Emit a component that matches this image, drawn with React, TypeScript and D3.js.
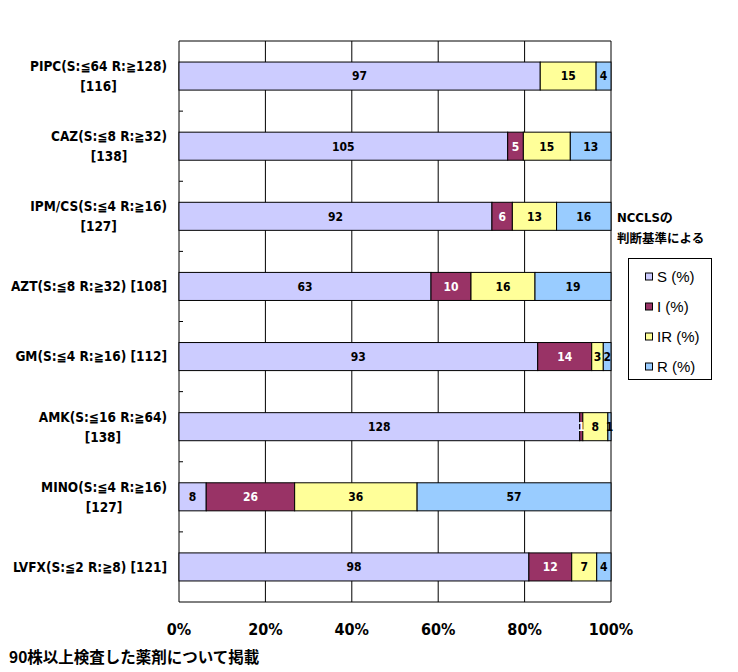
import * as d3 from "d3";
import { useEffect } from "react";

// 薬剤ごとのラベル (1行目, 2行目)
const drugLine1 = [
  "PIPC(S:≦64 R:≧128)",
  "CAZ(S:≦8 R:≧32)",
  "IPM/CS(S:≦4 R:≧16)",
  "AZT(S:≦8 R:≧32) [108]",
  "GM(S:≦4 R:≧16) [112]",
  "AMK(S:≦16 R:≧64)",
  "MINO(S:≦4 R:≧16)",
  "LVFX(S:≦2 R:≧8) [121]",
];
const drugLine2 = ["[116]", "[138]", "[127]", "", "", "[138]", "[127]", ""];

// 株数
const sValues = [97, 105, 92, 63, 93, 128, 8, 98];
const iValues = [0, 5, 6, 10, 14, 1, 26, 12];
const irValues = [15, 15, 13, 16, 3, 8, 36, 7];
const rValues = [4, 13, 16, 19, 2, 1, 57, 4];

const seriesNames = ["S (%)", "I (%)", "IR (%)", "R (%)"];
const seriesColors = ["#CCCCFF", "#993366", "#FFFF99", "#99CCFF"];
const labelColors = ["#000", "#fff", "#000", "#000"];

const xTicks = [0, 0.2, 0.4, 0.6, 0.8, 1];

const W = 738;
const H = 672;
const plot = { left: 179, right: 611, top: 41, bottom: 602 };

const FONT = "'Liberation Sans Narrow', 'DejaVu Sans Condensed', 'Noto Sans CJK JP', sans-serif";
const JP = "'Noto Sans CJK JP', sans-serif";
const LABEL_SIZE = 13.5;

// 1行目の幅を測って2行目を中央に揃える
const ctx = document.createElement("canvas").getContext("2d");
const measure = (s: string) => {
  if (!ctx) return s.length * 7;
  ctx.font = `bold ${LABEL_SIZE}px ${FONT}`;
  return ctx.measureText(s).width;
};

export default function App() {
  useEffect(() => {
    document.body.style.margin = "0";
  }, []);

  const series = [sValues, iValues, irValues, rValues];
  const rows = drugLine1.map((_, i) => {
    const total = series.reduce((a, s) => a + s[i], 0);
    let acc = 0;
    return series.map((s, k) => {
      const seg = { k, v: s[i], x0: acc / total, x1: (acc + s[i]) / total };
      acc += s[i];
      return seg;
    });
  });

  const x = d3.scaleLinear().domain([0, 1]).range([plot.left, plot.right]);
  const y = d3
    .scaleBand<number>()
    .domain(d3.range(drugLine1.length))
    .range([plot.top, plot.bottom])
    .paddingInner(0.6)
    .paddingOuter(0.3);
  const step = (plot.bottom - plot.top) / drugLine1.length;

  return (
    <svg width={W} height={H} style={{ display: "block" }}>
      <rect width={W} height={H} fill="#fff" />
      {/* 縦グリッド */}
      {xTicks.map((t) => (
        <line key={t} x1={x(t)} x2={x(t)} y1={plot.top} y2={plot.bottom} stroke="#000" strokeWidth={1} />
      ))}
      <line x1={plot.left} x2={plot.right} y1={plot.top} y2={plot.top} stroke="#000" />
      <line x1={plot.left} x2={plot.right} y1={plot.bottom} y2={plot.bottom} stroke="#000" />
      {/* 区切り目盛 */}
      {d3.range(1, drugLine1.length).map((i) => (
        <line
          key={i}
          x1={plot.left}
          x2={plot.left + 4}
          y1={plot.top + step * i}
          y2={plot.top + step * i}
          stroke="#000"
        />
      ))}
      {/* 棒 */}
      {rows.map((segs, i) => (
        <g key={i}>
          {segs
            .filter((s) => s.v > 0)
            .map((s) => (
              <rect
                key={s.k}
                x={x(s.x0)}
                y={y(i)}
                width={x(s.x1) - x(s.x0)}
                height={y.bandwidth()}
                fill={seriesColors[s.k]}
                stroke="#000"
                strokeWidth={1}
              />
            ))}
          {segs
            .filter((s) => s.v > 0)
            .map((s) => (
              <text
                key={"t" + s.k}
                x={(x(s.x0) + x(s.x1)) / 2}
                y={(y(i) ?? 0) + y.bandwidth() / 2}
                dy="0.36em"
                textAnchor="middle"
                fontFamily={FONT}
                fontWeight="bold"
                fontSize={12}
                fill={labelColors[s.k]}
              >
                {s.v}
              </text>
            ))}
        </g>
      ))}
      {/* 薬剤ラベル */}
      {drugLine1.map((l1, i) => {
        const cy = (y(i) ?? 0) + y.bandwidth() / 2;
        const l2 = drugLine2[i];
        const right = 167;
        return (
          <g key={l1} fontFamily={FONT} fontWeight="bold" fontSize={LABEL_SIZE} fill="#000">
            {l2 ? (
              <>
                <text x={right} y={cy - 10} dy="0.36em" textAnchor="end">
                  {l1}
                </text>
                <text x={right - measure(l1) / 2} y={cy + 10} dy="0.36em" textAnchor="middle">
                  {l2}
                </text>
              </>
            ) : (
              <text x={right} y={cy} dy="0.36em" textAnchor="end">
                {l1}
              </text>
            )}
          </g>
        );
      })}
      {/* X軸ラベル */}
      {xTicks.map((t) => (
        <text
          key={t}
          x={x(t)}
          y={629}
          dy="0.36em"
          textAnchor="middle"
          fontFamily={FONT}
          fontWeight="bold"
          fontSize={16}
        >
          {d3.format(".0%")(t)}
        </text>
      ))}
      {/* 凡例 */}
      <text x={617} y={217} dy="0.36em" fontFamily={FONT} fontWeight="bold" fontSize={13}>
        NCCLSの
      </text>
      <text x={617} y={238} dy="0.36em" fontFamily={JP} fontWeight="bold" fontSize={12.5}>
        判断基準による
      </text>
      <rect x={628.5} y={258.5} width={83} height={121} fill="#fff" stroke="#000" />
      {seriesNames.map((n, k) => (
        <g key={n}>
          <rect x={645.5} y={273 + k * 30} width={7} height={7} fill={seriesColors[k]} stroke="#000" />
          <text x={657} y={277 + k * 30} dy="0.36em" fontFamily="'Liberation Sans', Arial, sans-serif" fontSize={15}>
            {n}
          </text>
        </g>
      ))}
      {/* 注記 */}
      <text x={9} y={657} dy="0.36em" fontFamily={JP} fontWeight="bold" fontSize={15.5}>
        90株以上検査した薬剤について掲載
      </text>
    </svg>
  );
}
